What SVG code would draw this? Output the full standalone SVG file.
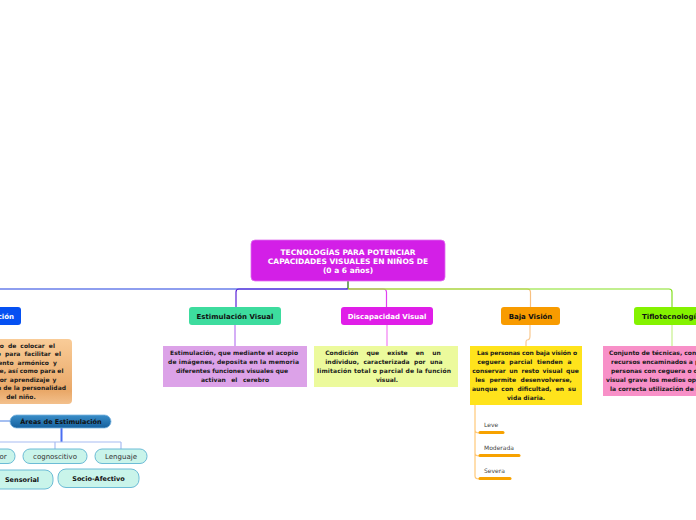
<svg xmlns="http://www.w3.org/2000/svg" width="696" height="520" viewBox="0 0 696 520">
<defs>
<linearGradient id="gOr" x1="0" y1="0" x2="0" y2="1"><stop offset="0" stop-color="#f9cc98"/><stop offset="0.8" stop-color="#e9a868"/><stop offset="1" stop-color="#f3c08c"/></linearGradient>
<linearGradient id="gAr" x1="0" y1="0" x2="0" y2="1"><stop offset="0" stop-color="#3a8ec8"/><stop offset="1" stop-color="#15609e"/></linearGradient>
<style>
text{font-family:"DejaVu Sans",Verdana,sans-serif;}
.b{font-weight:bold;}
.lbl{font-size:7px;font-weight:bold;text-anchor:middle;}
.d{font-size:6px;font-weight:bold;fill:#1a1a1a;}
.c{text-anchor:middle;}
.k{fill:none;stroke-width:1.2;}
.ch{fill:#c9f4ea;stroke:#6cbcd6;stroke-width:1;}
.cht{font-size:7px;fill:#333;text-anchor:middle;}
.chb{font-size:6.5px;font-weight:bold;fill:#111;text-anchor:middle;}
.ul{stroke:#f7a200;stroke-width:3;stroke-linecap:round;}
.sub{font-size:6px;fill:#444;}
</style>
</defs>
<rect width="696" height="520" fill="#ffffff"/>
<g id="connectors">
<path class="k" stroke="#1f3fe0" d="M348,281 V289 H-2"/>
<path class="k" stroke="#5a22d8" d="M348,281 V287 Q348,289 346,289 H239 Q236,289 236,292 V307"/>
<path class="k" stroke="#e040f0" d="M348,289 H383 Q386.5,289 386.5,292.5 V307"/>
<path class="k" stroke="#f8c080" d="M348,289 H527 Q530.5,289 530.5,292.5 V307"/>
<path class="k" stroke="#84e020" d="M348,281 V287 Q348,289 350,289 H669 Q672,289 672,292 V307"/>
<path class="k" stroke="#b878f0" d="M235,325 V346"/>
<path class="k" stroke="#f27ef2" d="M387,325 V346"/>
<path class="k" stroke="#f8c890" d="M530,325 V336 Q530,340 527,340 Q526,340 526,343 V346"/>
<path class="k" stroke="#c6f08c" d="M672,325 V346"/>
<path class="k" stroke="#ffc878" d="M475,404 V476 Q475,479 479,479 M475,430 Q475,433 479,433 M475,453 Q475,456 479,456"/>
<path class="k" stroke="#6a94e8" d="M-2,421 H10"/>
<path fill="none" stroke="#4a6ef2" stroke-width="2" d="M61.5,428 V442"/>
<path fill="none" stroke="#a8bcf2" stroke-width="1.2" d="M-2,442 H121 M55,442 V449 M121,442 V449"/>
<line class="ul" x1="480" y1="432.5" x2="503" y2="432.5"/>
<line class="ul" x1="480" y1="455.5" x2="519" y2="455.5"/>
<line class="ul" x1="480" y1="478.5" x2="510" y2="478.5"/>
</g>
<g id="central">
<rect x="251" y="240" width="194" height="41" rx="4" fill="#d31fe7" stroke="#e070f0" stroke-width="0.8"/>
<text class="b c" font-size="7.5" fill="#ffffff" x="348" y="254.5">TECNOLOGÍAS PARA POTENCIAR</text>
<text class="b c" font-size="7.5" fill="#ffffff" x="348" y="263.5">CAPACIDADES VISUALES EN NIÑOS DE</text>
<text class="b c" font-size="7.5" fill="#ffffff" x="348" y="272.5">(0 a 6 años)</text>
</g>
<g id="estimulacion">
<rect x="-10" y="307" width="31" height="18" rx="3" fill="#0550f2"/>
<text class="b" font-size="7px" fill="#ffffff" x="14" y="318.5" text-anchor="end">ción</text>
</g>
<g id="estimulacion-desc">
<rect x="-74" y="339" width="146" height="65" rx="4" fill="url(#gOr)"/>
<text class="d" text-anchor="end" x="55" y="347.5" word-spacing="2">so de colocar el</text>
<text class="d" text-anchor="end" x="61" y="356" word-spacing="2">o para facilitar el</text>
<text class="d" text-anchor="end" x="57" y="364.5" word-spacing="2">iento armónico y</text>
<text class="d" text-anchor="end" x="63.5" y="373">le, así como para el</text>
<text class="d" text-anchor="end" x="56.5" y="381.5" word-spacing="1">rior aprendizaje y</text>
<text class="d" text-anchor="end" x="66" y="390">n de la personalidad</text>
<text class="d c" x="21" y="398.5">del niño.</text>
</g>
<g id="areas">
<rect x="10" y="415" width="101" height="13" rx="6.5" fill="url(#gAr)" stroke="#7ab4e0" stroke-width="0.8"/>
<text class="chb" x="61" y="424">Áreas de Estimulación</text>
</g>
<g id="motor">
<rect class="ch" x="-30" y="449" width="45" height="14.5" rx="7"/>
<text class="cht" x="3" y="458.5">or</text>
</g>
<g id="cognoscitivo">
<rect class="ch" x="23" y="449" width="64" height="14.5" rx="7"/>
<text class="cht" x="55" y="458.5">cognoscitivo</text>
</g>
<g id="lenguaje">
<rect class="ch" x="95" y="449" width="52" height="14.5" rx="7"/>
<text class="cht" x="121" y="458.5">Lenguaje</text>
</g>
<g id="sensorial">
<rect class="ch" x="-10" y="470" width="63" height="19" rx="8"/>
<text class="chb" x="22" y="481.5">Sensorial</text>
</g>
<g id="socio-afectivo">
<rect class="ch" x="58" y="469" width="81" height="18.5" rx="8"/>
<text class="chb" x="98.5" y="480.5">Socio-Afectivo</text>
</g>
<g id="estimulacion-visual">
<rect x="189" y="307" width="92" height="18" rx="3" fill="#3ddc9e"/>
<text class="lbl" fill="#111" x="235" y="318.5">Estimulación Visual</text>
</g>
<g id="estimulacion-visual-desc">
<rect x="163" y="346" width="144" height="41" fill="#dca2e8"/>
<text class="d" x="170" y="355" textLength="128" lengthAdjust="spacing">Estimulación, que mediante el acopio</text>
<text class="d" x="168" y="364" textLength="131" lengthAdjust="spacing">de imágenes, deposita en la memoria</text>
<text class="d" x="176" y="373" textLength="112" lengthAdjust="spacing">diferentes funciones visuales que</text>
<text class="d c" x="235" y="382" word-spacing="3.5">activan el cerebro</text>
</g>
<g id="discapacidad-visual">
<rect x="341" y="307" width="92" height="18" rx="3" fill="#e01ee8"/>
<text class="lbl" fill="#ffffff" x="387" y="318.5">Discapacidad Visual</text>
</g>
<g id="discapacidad-visual-desc">
<rect x="314" y="346" width="144" height="41" fill="#ecfa9c"/>
<text class="d c" x="383" y="355" word-spacing="6">Condición que existe en un</text>
<text class="d c" x="384" y="364" word-spacing="2.5">individuo, caracterizada por una</text>
<text class="d" x="317" y="373" textLength="134" lengthAdjust="spacing">limitación total o parcial de la función</text>
<text class="d c" x="387" y="382">visual.</text>
</g>
<g id="baja-vision">
<rect x="501" y="307" width="59" height="18" rx="3" fill="#f89b00"/>
<text class="lbl" fill="#111" x="530.5" y="318.5">Baja Visión</text>
</g>
<g id="baja-vision-desc">
<rect x="470" y="346" width="112" height="59" fill="#ffe31c"/>
<text class="d" x="477" y="355" textLength="100" lengthAdjust="spacing">Las personas con baja visión o</text>
<text class="d c" x="524.5" y="364" word-spacing="2.5">ceguera parcial tienden a</text>
<text class="d c" x="525.5" y="373" word-spacing="1.5">conservar un resto visual que</text>
<text class="d c" x="523.5" y="382" word-spacing="2.5">les permite desenvolverse,</text>
<text class="d c" x="524" y="391" word-spacing="2">aunque con dificultad, en su</text>
<text class="d c" x="526" y="400">vida diaria.</text>
</g>
<g id="leve"><text class="sub" x="484" y="427">Leve</text></g>
<g id="moderada"><text class="sub" x="484" y="450">Moderada</text></g>
<g id="severa"><text class="sub" x="484" y="472.5">Severa</text></g>
<g id="tiflotecnologia">
<rect x="634" y="307" width="80" height="18" rx="3" fill="#84f200"/>
<text class="b" font-size="7px" fill="#111" x="642" y="318.5">Tiflotecnologí</text>
</g>
<g id="tiflotecnologia-desc">
<rect x="603" y="346" width="110" height="50" fill="#f890c8"/>
<text class="d" x="609" y="355">Conjunto de técnicas, cono</text>
<text class="d" x="611" y="364">recursos encaminados a pr</text>
<text class="d" x="611" y="373">personas con ceguera o di</text>
<text class="d" x="606" y="382">visual grave los medios opo</text>
<text class="d" x="610" y="391">la correcta utilización de la</text>
</g>
</svg>
